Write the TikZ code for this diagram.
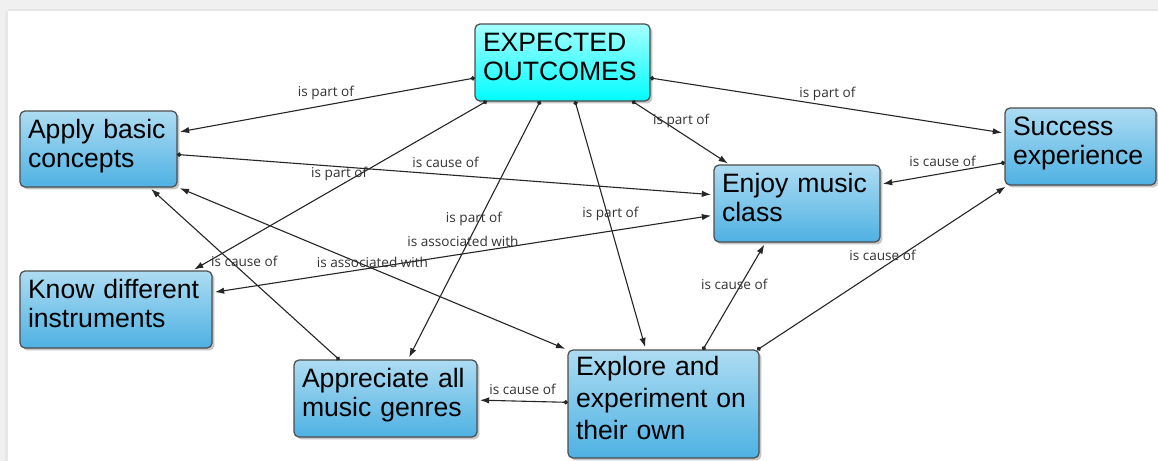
\documentclass[tikz,border=0pt]{standalone}
\usepackage{fontspec}
\setmainfont{Liberation Sans}
\newfontfamily\linkfont{Open Sans}
\usetikzlibrary{arrows.meta, shadows}

\definecolor{cyantop}{HTML}{A6FFFF}
\definecolor{cyanbot}{HTML}{00FCFF}
\definecolor{bluetop}{HTML}{ADDCF2}
\definecolor{bluebot}{HTML}{4EB1E3}

\begin{document}
\begin{tikzpicture}[x=0.5pt, y=-0.5pt, >={Latex[length=4.6pt,width=3.2pt]}]
        \tikzset{
            % Define style for concepts
            konsept/.style={
                    rectangle,
                    rounded corners=2.5pt,
                    draw=black!70, line width=0.6pt,
                    anchor=north west,
                    align=left,
                    inner xsep=4pt, inner ysep=0pt, outer sep=0pt,
                    font=\fontsize{13.3}{14.5}\selectfont,
                    execute at begin node={\strut},
                    execute at end node={\strut\par\kern2pt},
                    top color=bluetop, bottom color=bluebot,
                    drop shadow={shadow xshift=1.2pt, shadow yshift=-1.2pt, opacity=0.45}},
            % Define style for linking phrases
            lbl/.style={
                    midway,
                    yshift=6pt,
                    inner sep=0pt,
                    text=black!80,
                    font=\linkfont\fontsize{6.8}{8}\selectfont},
            % Define arrow styles
            pil/.style={
                    arrows={Circle[length=2.2pt]->},
                    draw=black!85, line width=0.55pt,
                    shorten >=1.5pt},
            pilboth/.style={
                    <->,
                    draw=black!85, line width=0.55pt,
                    shorten >=1.5pt, shorten <=1.5pt},
        }
        % Window frame
        \fill[black!6] (0,0) rectangle (1158,461);
        \fill[black!9] (5,11) rectangle (8,461);
        \fill[black!10] (8,9) rectangle (1158,11);
        \fill[white] (8,11) rectangle (1158,461);
        \useasboundingbox (0,0) rectangle (1158,461);

        % Draw the concepts
        \node[konsept, top color=cyantop, bottom color=cyanbot, minimum width=87.5pt, minimum height=38.5pt, text width=79.5pt] (eo) at (475,24) {EXPECTED\\OUTCOMES};
        \node[konsept, minimum width=78.5pt, minimum height=38pt, text width=70.5pt] (abc) at (20,111) {Apply basic\\concepts};
        \node[konsept, minimum width=75.5pt, minimum height=38.5pt, text width=67.5pt] (se) at (1005,108) {Success\\experience};
        \node[konsept, minimum width=83pt, minimum height=38.5pt, text width=75pt] (emc) at (714,165) {Enjoy music\\class};
        \node[konsept, minimum width=96pt, minimum height=38.5pt, text width=88pt] (kdi) at (20,271) {Know different\\instruments};
        \node[konsept, minimum width=91.5pt, minimum height=38.5pt, text width=83.5pt] (aamg) at (294,360) {Appreciate all\\music genres};
        \node[konsept, minimum width=95.5pt, minimum height=54pt, text width=87.5pt] (eeo) at (568,350) {Explore and\\[1.5pt]experiment on\\[1.5pt]their own};

        % Connect the concepts with arrows
        \draw
        (eo.190) edge[pil] node[lbl] {is part of} (abc.12)
        (eo.-10) edge[pil] node[lbl] {is part of} (se.170)
        (eo.-29) edge[pil] node[lbl] {is part of} (emc.150)
        (eo.207) edge[pil] node[lbl] {is part of} (kdi.27)
        (eo.240) edge[pil] node[lbl] {is part of} (aamg.60)
        (eo.-72) edge[pil] node[lbl] {is part of} (eeo.108)
        (abc.-4) edge[pil] node[lbl] {is cause of} (emc.174)
        (se.192) edge[pil] node[lbl] {is cause of} (emc.13)
        (aamg.140) edge[pil] node[lbl] {is cause of} (abc.-37)
        (eeo.54) edge[pil] node[lbl] {is cause of} (emc.231)
        (eeo.30) edge[pil] node[lbl] {is cause of} (se.208)
        (eeo.179) edge[pil] node[lbl] {is cause of} (aamg.-1)
        (kdi.10) edge[pilboth] node[lbl] {is associated with} (emc.188)
        (abc.south east) edge[pilboth] node[lbl, yshift=-2.7pt] {is associated with} (eeo.north west);

    \end{tikzpicture}
\end{document}
